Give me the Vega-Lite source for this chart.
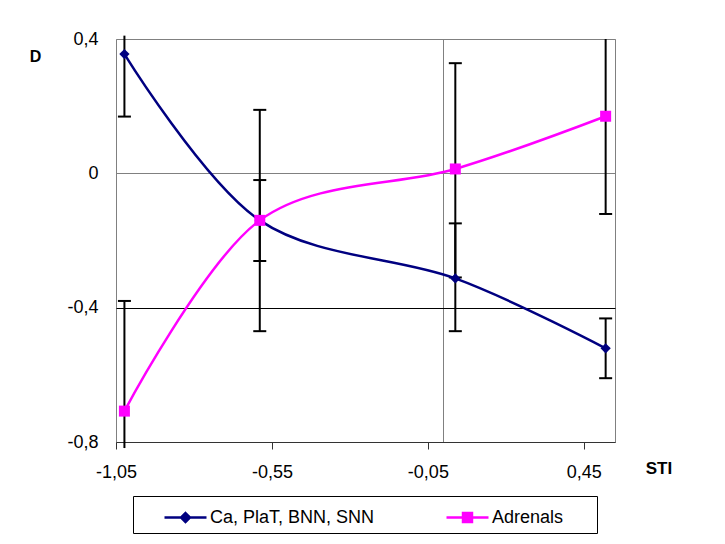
{
  "$schema": "https://vega.github.io/schema/vega-lite/v6.json",
  "width": 499,
  "height": 403,
  "autosize": {"type": "none"},
  "padding": {"left": 116, "top": 39, "right": 110, "bottom": 102},
  "background": "white",
  "config": {
    "font": "Liberation Sans",
    "view": {"stroke": "#808080", "strokeWidth": 1}
  },
  "data": {
    "values": [
      {"series": "Ca, PlaT, BNN, SNN", "sti": -1.023, "d": 0.355, "lo": 0.169, "hi": 0.41},
      {"series": "Ca, PlaT, BNN, SNN", "sti": -0.589, "d": -0.14, "lo": -0.261, "hi": -0.02},
      {"series": "Ca, PlaT, BNN, SNN", "sti": 0.038, "d": -0.313, "lo": -0.47, "hi": -0.149},
      {"series": "Ca, PlaT, BNN, SNN", "sti": 0.52, "d": -0.521, "lo": -0.61, "hi": -0.432},
      {"series": "Adrenals", "sti": -1.023, "d": -0.708, "lo": -0.818, "hi": -0.38},
      {"series": "Adrenals", "sti": -0.589, "d": -0.14, "lo": -0.47, "hi": 0.189},
      {"series": "Adrenals", "sti": 0.038, "d": 0.013, "lo": -0.31, "hi": 0.328},
      {"series": "Adrenals", "sti": 0.52, "d": 0.17, "lo": -0.121, "hi": 0.4}
    ]
  },
  "encoding": {
    "x": {
      "field": "sti",
      "type": "quantitative",
      "title": "STI",
      "scale": {"domain": [-1.05, 0.55], "nice": false, "zero": false},
      "axis": {
        "values": [-1.05, -0.55, -0.05, 0, 0.45],
        "labelExpr": "datum.value === 0 ? '' : replace(toString(datum.value), '.', ',')",
        "labelFontSize": 18,
        "labelColor": "black",
        "labelPadding": 14,
        "labelFlush": false,
        "labelOverlap": false,
        "labelBound": false,
        "tickSize": 7,
        "tickColor": "#333333",
        "tickWidth": 1,
        "tickOpacity": {"condition": {"test": "datum.value === 0", "value": 0}, "value": 1},
        "domainColor": "#333333",
        "domainWidth": 1,
        "grid": true,
        "gridColor": "#808080",
        "gridWidth": 1,
        "gridOpacity": {"condition": {"test": "datum.value === 0", "value": 1}, "value": 0},
        "titleX": 542.5,
        "titleY": 26,
        "titleAlign": "center",
        "titleBaseline": "middle",
        "titleFontSize": 17,
        "titleFontWeight": "bold",
        "titleColor": "black"
      }
    }
  },
  "layer": [
    {
      "mark": {"type": "rule", "color": "black", "strokeWidth": 2, "clip": false},
      "encoding": {
        "y": {"field": "lo", "type": "quantitative", "title": "D"},
        "y2": {"field": "hi"}
      }
    },
    {
      "transform": [{"filter": "datum.hi < 0.4"}],
      "mark": {"type": "tick", "orient": "horizontal", "color": "black", "size": 13, "thickness": 2, "opacity": 1},
      "encoding": {
        "y": {"field": "hi", "type": "quantitative", "title": "D"}
      }
    },
    {
      "transform": [{"filter": "datum.lo > -0.8"}],
      "mark": {"type": "tick", "orient": "horizontal", "color": "black", "size": 13, "thickness": 2, "opacity": 1},
      "encoding": {
        "y": {"field": "lo", "type": "quantitative", "title": "D"}
      }
    },
    {
      "mark": {"type": "line", "interpolate": "cardinal", "strokeWidth": 2.5},
      "encoding": {
        "y": {
          "field": "d",
          "type": "quantitative",
          "title": "D",
          "scale": {"domain": [-0.8, 0.4], "nice": false, "zero": false},
          "axis": {
            "values": [-0.8, -0.4, 0, 0.4],
            "labelExpr": "replace(toString(datum.value), '.', ',')",
            "labelFontSize": 18,
            "labelColor": "black",
            "labelPadding": 18,
            "ticks": false,
            "tickSize": 0,
            "domain": false,
            "grid": true,
            "gridWidth": 1,
            "gridColor": {"condition": {"test": "datum.value === -0.4", "value": "black"}, "value": "#808080"},
            "titleAngle": 0,
            "titleX": -81,
            "titleY": 17,
            "titleAlign": "center",
            "titleBaseline": "middle",
            "titleFontSize": 16,
            "titleFontWeight": "bold",
            "titleColor": "black"
          }
        },
        "color": {
          "field": "series",
          "type": "nominal",
          "scale": {"domain": ["Ca, PlaT, BNN, SNN", "Adrenals"], "range": ["#000080", "#FF00FF"]},
          "legend": {
            "title": "\u00a0",
            "titleOrient": "right",
            "titleFontSize": 18,
            "titlePadding": 28,
            "orient": "none",
            "legendX": 17,
            "legendY": 457,
            "direction": "horizontal",
            "columns": 2,
            "columnPadding": 46,
            "padding": 6,
            "strokeColor": "black",
            "fillColor": "white",
            "labelFont": "Liberation Sans",
            "labelFontSize": 18,
            "labelColor": "black",
            "labelOffset": 9,
            "labelLimit": 300,
            "symbolSize": 784,
            "symbolOffset": 31,
            "symbolStrokeWidth": 2.5,
            "symbolOpacity": 1,
            "symbolType": {"expr": "datum.value === 'Adrenals' ? 'M-1.5,0L1.5,0M-0.32,-0.32H0.32V0.32H-0.32Z' : 'M-1.5,0L1.5,0M0,-0.32L0.32,0L0,0.32L-0.32,0Z'"},
            "symbolFillColor": {"expr": "datum.value === 'Adrenals' ? '#FF00FF' : '#000080'"}
          }
        },
        "order": {"field": "sti", "type": "quantitative"}
      }
    },
    {
      "transform": [{"filter": "datum.series === 'Ca, PlaT, BNN, SNN'"}],
      "mark": {"type": "point", "shape": "diamond", "filled": true, "size": 105, "opacity": 1, "strokeWidth": 0, "color": "#000080"},
      "encoding": {
        "y": {"field": "d", "type": "quantitative", "title": "D"}
      }
    },
    {
      "transform": [{"filter": "datum.series === 'Adrenals'"}],
      "mark": {"type": "point", "shape": "square", "filled": true, "size": 121, "opacity": 1, "strokeWidth": 0, "color": "#FF00FF"},
      "encoding": {
        "y": {"field": "d", "type": "quantitative", "title": "D"}
      }
    }
  ]
}
